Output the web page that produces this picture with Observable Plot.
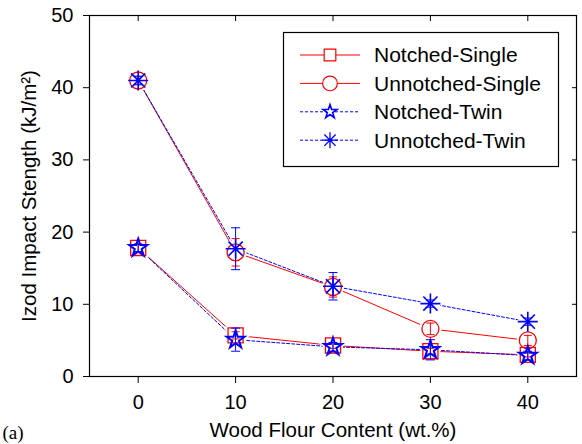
<!DOCTYPE html>
<html><head><meta charset="utf-8">
<script src="https://cdn.jsdelivr.net/npm/d3@7"></script>
<script src="https://cdn.jsdelivr.net/npm/@observablehq/plot@0.6"></script>
<style>
body{margin:0;background:#fff;}
#wrap{position:relative;width:582px;height:444px;font-family:"Liberation Sans",Arial,sans-serif;}
#wrap svg{position:absolute;left:0;top:0;}
</style></head><body><div id="wrap"></div>
<script>
// ---- data ----
const woodFlour = [0, 10, 20, 30, 40];
const xTicks = [0, 10, 20, 30, 40];
const yTicks = [0, 10, 20, 30, 40, 50];
const seriesNames = ["Notched-Single", "Unnotched-Single", "Notched-Twin", "Unnotched-Twin"];
const notchedSingle      = [17.8, 5.7, 4.3, 3.5, 3.0];
const notchedSingleErr   = [0.6, 0.5, 0.4, 0.4, 0.3];
const unnotchedSingle    = [41.0, 17.2, 12.4, 6.6, 5.0];
const unnotchedSingleErr = [0.5, 1.9, 1.4, 0.8, 0.7];
const notchedTwin        = [17.8, 5.1, 4.1, 3.7, 2.9];
const notchedTwinErr     = [0.5, 1.6, 0.6, 1.4, 0.6];
const unnotchedTwin      = [41.0, 17.7, 12.5, 10.1, 7.6];
const unnotchedTwinErr   = [0.6, 2.9, 1.9, 0.5, 0.5];
const xLabel = "Wood Flour Content (wt.%)";
const yLabel = "Izod Impact Stength (kJ/m²)";
const panelLabel = "(a)";

// ---- helpers ----
const rows = (vals, errs) => woodFlour.map((x, i) => ({x, y: vals[i], lo: vals[i] - errs[i], hi: vals[i] + errs[i]}));
const dNS = rows(notchedSingle, notchedSingleErr);
const dUS = rows(unnotchedSingle, unnotchedSingleErr);
const dNT = rows(notchedTwin, notchedTwinErr);
const dUT = rows(unnotchedTwin, unnotchedTwinErr);

const asterisk8 = {draw(ctx, size) {
  const r = Math.sqrt(size / Math.PI), d = r * Math.SQRT1_2;
  ctx.moveTo(0, -r); ctx.lineTo(0, r);
  ctx.moveTo(-r, 0); ctx.lineTo(r, 0);
  ctx.moveTo(-d, -d); ctx.lineTo(d, d);
  ctx.moveTo(-d, d); ctx.lineTo(d, -d);
}};
const hcap = {draw(ctx, size) {
  const r = Math.sqrt(size / Math.PI);
  ctx.moveTo(-r, 0); ctx.lineTo(r, 0);
}};

const RED = "#ff0000", BLUE = "#0000ff";
const font = "Liberation Sans, Arial, sans-serif";

function errMarks(data, color, capR) {
  return [
    Plot.ruleX(data, {x: "x", y1: "lo", y2: "hi", stroke: color, strokeWidth: 1}),
    Plot.dot(data, {x: "x", y: "lo", symbol: hcap, r: capR, stroke: color, strokeWidth: 1}),
    Plot.dot(data, {x: "x", y: "hi", symbol: hcap, r: capR, stroke: color, strokeWidth: 1})
  ];
}

const chart = Plot.plot({
  width: 582, height: 444,
  marginLeft: 89, marginRight: 6, marginTop: 15, marginBottom: 68,
  style: {fontFamily: font, fontSize: "20px", color: "black", background: "white"},
  x: {domain: [-5, 45]},
  y: {domain: [0, 50]},
  marks: [
    Plot.axisY({ticks: yTicks, tickSize: 6, tickPadding: 10, fontSize: 20, label: null}),
    Plot.axisY({anchor: "right", ticks: yTicks, tickSize: -5, tickFormat: () => "", label: null}),
    Plot.axisX({ticks: xTicks, tickSize: 7, tickPadding: 11, fontSize: 20, label: null}),
    Plot.axisX({anchor: "top", ticks: xTicks, tickSize: -5, tickFormat: () => "", label: null}),
    // lines
    Plot.line(dNS, {x: "x", y: "y", stroke: RED, strokeWidth: 1}),
    Plot.line(dUS, {x: "x", y: "y", stroke: RED, strokeWidth: 1}),
    Plot.line(dNT, {x: "x", y: "y", stroke: BLUE, strokeWidth: 1, strokeDasharray: "3,2"}),
    Plot.line(dUT, {x: "x", y: "y", stroke: BLUE, strokeWidth: 1, strokeDasharray: "3,2"}),
    // white halos so lines stop short of markers
    Plot.dot(dUS, {x: "x", y: "y", symbol: "circle", r: 8.5, fill: "white", stroke: "white", strokeWidth: 5}),
    Plot.dot(dNS, {x: "x", y: "y", symbol: "square", r: 8.5, fill: "white", stroke: "white", strokeWidth: 5}),
    Plot.dot(dNT, {x: "x", y: "y", symbol: "star", r: 5.6, fill: "white", stroke: "white", strokeWidth: 5}),
    Plot.dot(dUT, {x: "x", y: "y", symbol: asterisk8, r: 10, fill: "none", stroke: "white", strokeWidth: 5}),
    // markers
    Plot.dot(dUS, {x: "x", y: "y", symbol: "circle", r: 8.5, fill: "none", stroke: RED, strokeWidth: 1.3}),
    Plot.dot(dNS, {x: "x", y: "y", symbol: "square", r: 8.5, fill: "none", stroke: RED, strokeWidth: 1.3}),
    ...errMarks(dUS, RED, 4),
    ...errMarks(dNS, RED, 4),
    Plot.dot(dNT, {x: "x", y: "y", symbol: "star", r: 5.6, fill: "none", stroke: BLUE, strokeWidth: 2}),
    ...errMarks(dNT, BLUE, 4.5),
    ...errMarks(dUT, BLUE, 4.5),
    Plot.dot(dUT, {x: "x", y: "y", symbol: asterisk8, r: 10, fill: "none", stroke: BLUE, strokeWidth: 1.6}),
    Plot.frame({stroke: "black", strokeWidth: 1.2}),
    // labels
    Plot.text([xLabel], {frameAnchor: "bottom", dy: 54, fontSize: 20.5, textAnchor: "middle", lineAnchor: "middle", fill: "black"}),
    Plot.text([yLabel], {frameAnchor: "left", dx: -60, rotate: -90, fontSize: 20.5, textAnchor: "middle", lineAnchor: "middle", fill: "black"}),
    Plot.text([panelLabel], {frameAnchor: "bottom-left", dx: -87, dy: 56, textAnchor: "start", lineAnchor: "middle", fontSize: 19, fontFamily: "Liberation Serif, Times New Roman, serif", fill: "black"})
  ]
});
document.getElementById("wrap").appendChild(chart);

// ---- legend ----
const legendStyles = [
  {color: RED, dash: null, type: d3.symbolSquare, size: 135, sw: 1.2},
  {color: RED, dash: null, type: d3.symbolCircle, size: 170, sw: 1.2},
  {color: BLUE, dash: "3,2", type: d3.symbolStar, size: 60, sw: 1.6},
  {color: BLUE, dash: "3,2", type: asterisk8, size: Math.PI * 64, sw: 1.3}
];
const leg = d3.select("#wrap").append("svg").attr("width", 582).attr("height", 444).style("pointer-events", "none");
leg.append("rect").attr("x", 283.5).attr("y", 32.5).attr("width", 275).attr("height", 134)
  .attr("fill", "white").attr("stroke", "black").attr("stroke-width", 1.2);
seriesNames.forEach((name, i) => {
  const st = legendStyles[i];
  const y = 55 + i * 28.4;
  const g = leg.append("g");
  g.append("line").attr("x1", 300).attr("x2", 360).attr("y1", y).attr("y2", y)
    .attr("stroke", st.color).attr("stroke-width", 1).attr("stroke-dasharray", st.dash);
  g.append("path").attr("d", d3.symbol(st.type, st.size)()).attr("transform", `translate(330,${y})`)
    .attr("fill", "white").attr("stroke", st.color).attr("stroke-width", st.sw);
  g.append("text").attr("x", 374).attr("y", y).attr("dy", "0.35em")
    .attr("font-family", font).attr("font-size", 21).attr("fill", "black").text(name);
});
</script></body></html>
